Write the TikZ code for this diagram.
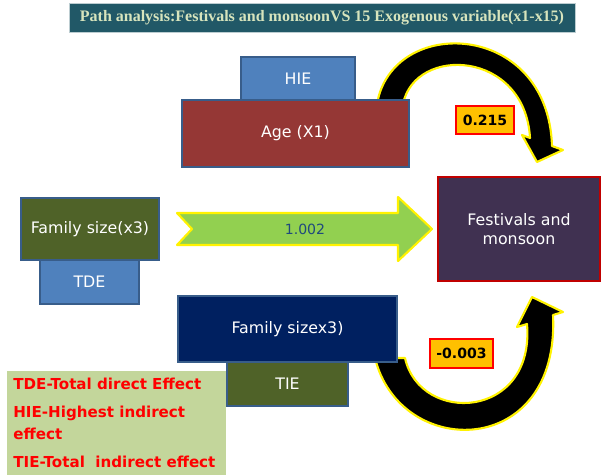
\documentclass[tikz,border=0pt]{standalone}
\usepackage{fontspec}
\setmainfont{DejaVu Sans}
\newfontfamily\titlefont{Liberation Serif}
\definecolor{bannerteal}{HTML}{215867}
\definecolor{bannertext}{HTML}{D7E4BD}
\definecolor{boxedge}{HTML}{385D8A}
\definecolor{hieblue}{HTML}{4F81BD}
\definecolor{agered}{HTML}{953735}
\definecolor{olive}{HTML}{4F6228}
\definecolor{navy}{HTML}{002060}
\definecolor{festpurple}{HTML}{403151}
\definecolor{festred}{HTML}{C00000}
\definecolor{arrowgreen}{HTML}{92D050}
\definecolor{numblue}{HTML}{1F497D}
\definecolor{coeforange}{HTML}{FFC000}
\definecolor{legendgreen}{HTML}{C3D69B}
\begin{document}
\begin{tikzpicture}[x=0.02cm,y=-0.02cm,
	box/.style={draw=boxedge, line width=0.8pt, text=white, inner sep=0pt, align=center, font=\fontsize{9}{11}\selectfont},
	coef/.style={fill=coeforange, draw=red, line width=0.8pt, inner sep=0pt, font=\bfseries\fontsize{8}{10}\selectfont},
	fatarrow/.style={fill=black, draw=yellow, line width=1.2pt, line join=round}]
			\useasboundingbox (0,0) rectangle (601,476);
			
			%Title
			\node[fill=bannerteal, draw=white!70!bannerteal, minimum width=10.12cm, minimum height=0.58cm, inner sep=0pt,
				text=bannertext, font=\titlefont\bfseries\fontsize{9.1}{10}\selectfont] (title) at (322,18)
				{Path analysis:Festivals and monsoonVS 15 Exogenous variable(x1-x15)};
			
			%Upper curved arrow
			\draw[fatarrow] (377,104) .. controls (392,15) and (548,20) .. (552,146)
				-- (563,150) -- (537,162) -- (522,135) -- (530,138)
				.. controls (525,50) and (415,45) .. (403,104) -- cycle;
			
			%Lower curved arrow
			\draw[fatarrow] (375,358) .. controls (400,460) and (560,460) .. (553,315)
				-- (563,312) -- (532,297) -- (517,327) -- (527,324)
				.. controls (535,420) and (420,425) .. (405,358) -- cycle;
			
			%Straight arrow
			\draw[fill=arrowgreen, draw=yellow, line width=1.2pt, line join=round]
				(177,213) -- (398,213) -- (398,197) -- (432,229) -- (398,261) -- (398,245) -- (177,245) -- (192,229) -- cycle;
			\node[text=numblue, font=\fontsize{8}{10}\selectfont] (v2) at (305,229) {1.002};
			
			%Upper boxes
			\node[box, fill=hieblue, minimum width=2.28cm, minimum height=0.86cm] (hie) at (298,78.5) {HIE};
			\node[box, fill=agered, minimum width=4.54cm, minimum height=1.34cm] (age) at (295.5,133.5) {Age (X1)};
			
			%Left boxes
			\node[box, fill=hieblue, minimum width=1.98cm, minimum height=0.9cm] (tde) at (89.5,281.5) {TDE};
			\node[box, fill=olive, minimum width=2.76cm, minimum height=1.24cm] (fam) at (90,229) {Family size(x3)};
			
			%Lower boxes
			\node[box, fill=olive, minimum width=2.42cm, minimum height=0.88cm] (tie) at (287.5,384) {TIE};
			\node[box, fill=navy, minimum width=4.38cm, minimum height=1.32cm] (famb) at (287.5,329) {Family sizex3)};
			
			%Dependent variable
			\node[box, fill=festpurple, draw=festred, line width=1.5pt, minimum width=3.24cm, minimum height=2.08cm] (fest) at (519,229)
				{Festivals and\\monsoon};
			
			%Coefficients
			\node[coef, minimum width=1.16cm, minimum height=0.56cm] (v1) at (485,120) {0.215};
			\node[coef, minimum width=1.26cm, minimum height=0.58cm] (v3) at (461.5,353.5) {-0.003};
			
			%Legend
			\node[fill=legendgreen, minimum width=4.38cm, minimum height=2.1cm, inner sep=0pt] (legend) at (116.5,423) {};
			\node[anchor=north west, text=red, align=left, inner sep=0pt,
				font=\bfseries\fontsize{8.6}{12}\selectfont] (keys) at (13,378)
				{TDE-Total direct Effect\\[4pt]HIE-Highest indirect\\effect\\[4pt]TIE-Total\ \ indirect effect};
			
		\end{tikzpicture}
\end{document}
